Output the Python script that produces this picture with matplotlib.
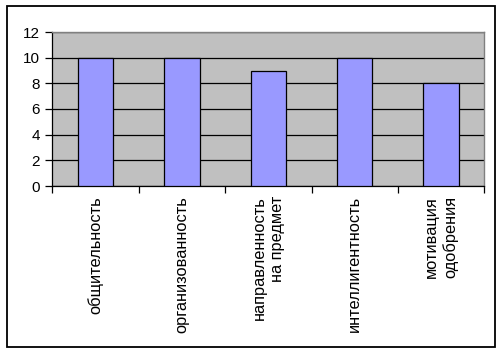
import matplotlib
matplotlib.use("Agg")
import matplotlib.pyplot as plt
from matplotlib.patches import Rectangle

categories = ["общительность", "организованность", "направленность\nна предмет",
              "интеллигентность", "мотивация\nодобрения"]
values = [10, 10, 9, 10, 8]
yticks = [0, 2, 4, 6, 8, 10, 12]

plt.rcParams['font.family'] = ['Liberation Sans', 'DejaVu Sans']

W, H = 504, 354
fig = plt.figure(figsize=(W/100, H/100), dpi=100)
fig.patch.set_facecolor('white')

# outer border
fig.add_artist(Rectangle((6.7/W, 1-346.7/H), (494.5-6.7)/W, (346.7-6.3)/H,
                         transform=fig.transFigure, fill=False, edgecolor='black', lw=1.3))

x0, x1, y0, y1 = 52.3, 484.3, 32.0, 186.0
ax = fig.add_axes([x0/W, 1-y1/H, (x1-x0)/W, (y1-y0)/H])
ax.set_facecolor('#C0C0C0')

n = len(categories)
xs = list(range(n))
ax.bar(xs, values, width=0.41, color='#9999FF', edgecolor='black', linewidth=0.9, zorder=3)
ax.set_xlim(-0.5, n-0.5)
ax.set_ylim(0, 12)
ax.set_yticks(yticks)
ax.set_yticklabels([str(v) for v in yticks], fontsize=11)
ax.yaxis.grid(True, color='black', lw=0.9, zorder=1)
ax.set_axisbelow(True)

ax.set_xticks([i - 0.5 for i in range(n+1)])
ax.set_xticklabels([])
ax.tick_params(axis='x', direction='out', length=5, width=0.9, color='black')
ax.tick_params(axis='y', direction='out', length=5, width=0.9, color='black', pad=4)

for s in ['top', 'right']:
    ax.spines[s].set_color('#808080')
    ax.spines[s].set_linewidth(1.0)
for s in ['left', 'bottom']:
    ax.spines[s].set_color('black')
    ax.spines[s].set_linewidth(0.9)

for i, lab in enumerate(categories):
    ax.text(i, -10/(y1-y0), lab, transform=ax.get_xaxis_transform(), rotation=90,
            ha='center', va='top', multialignment='right', fontsize=11.8,
            linespacing=1.3)

fig.savefig("out.png", dpi=100)
